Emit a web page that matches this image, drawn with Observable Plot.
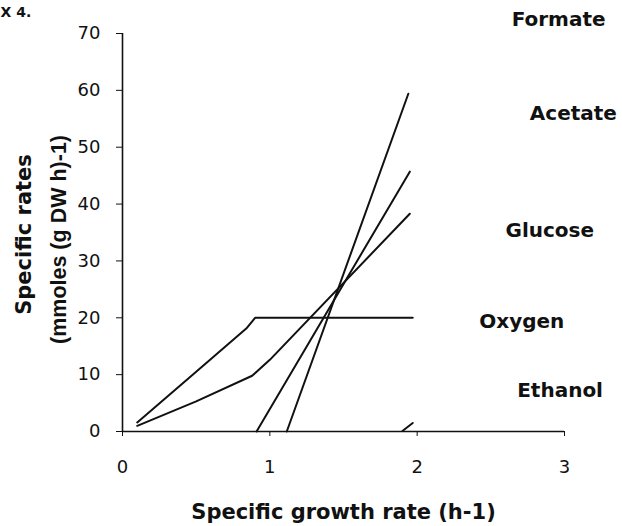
<!DOCTYPE html>
<html><head><meta charset="utf-8">
<script src="https://cdn.jsdelivr.net/npm/d3@7"></script>
<script src="https://cdn.jsdelivr.net/npm/@observablehq/plot@0.6"></script>
<style>
body{margin:0;background:#fff}
#chart svg{display:block}
</style>
</head><body><div id="chart"></div>
<script>
// Series (specific growth rate h-1 -> specific rate mmoles (g DW h)-1)
const formateX = [1.115, 1.94];
const formateY = [0, 59.4];
const acetateX = [0.91, 1.95];
const acetateY = [0, 45.7];
const glucoseX = [0.1, 0.5, 0.88, 1.0, 1.95];
const glucoseY = [1.0, 5.3, 9.8, 12.6, 38.3];
const oxygenX = [0.1, 0.5, 0.84, 0.9, 1.97];
const oxygenY = [1.6, 10.5, 18.1, 20, 20];
const ethanolX = [1.9, 1.97];
const ethanolY = [0.1, 1.5];

// Series labels on the right
const labelNames = ["Formate", "Acetate", "Glucose", "Oxygen", "Ethanol"];
const labelX = [2.96, 3.06, 2.9, 2.71, 2.97];
const labelY = [72.4, 56.0, 35.4, 19.4, 7.2];

const xTicks = [0, 1, 2, 3];
const yTicks = [0, 10, 20, 30, 40, 50, 60, 70];
const xTitle = "Specific growth rate (h-1)";
const yTitle1 = "Specific rates";
const yTitle2 = "(mmoles (g DW h)-1)";
const cornerText = "X 4.";

const toPts = (name, xs, ys) => xs.map((x, i) => ({series: name, x, y: ys[i]}));
const lines = [
  ...toPts("Formate", formateX, formateY),
  ...toPts("Acetate", acetateX, acetateY),
  ...toPts("Glucose", glucoseX, glucoseY),
  ...toPts("Oxygen", oxygenX, oxygenY),
  ...toPts("Ethanol", ethanolX, ethanolY)
];
const labels = labelNames.map((n, i) => ({n, x: labelX[i], y: labelY[i]}));
const bold = "DejaVu Sans, Verdana, sans-serif";
const narrow = "Liberation Sans, Arial, sans-serif";

const chart = Plot.plot({
  width: 622,
  height: 526,
  marginLeft: 122,
  marginRight: 58,
  marginTop: 33,
  marginBottom: 95,
  style: {fontFamily: "DejaVu Sans, sans-serif", background: "#fff", color: "#111", overflow: "visible"},
  x: {domain: [0, 3], ticks: xTicks, tickFormat: d3.format("d")},
  y: {domain: [0, 70], ticks: yTicks},
  marks: [
    Plot.axisX({ticks: xTicks, tickFormat: d3.format("d"), label: null, tickSize: 5, tickPadding: 24, fontSize: 18, stroke: "#111"}),
    Plot.axisY({ticks: yTicks, label: null, tickSize: 6, tickPadding: 16, fontSize: 18, stroke: "#111"}),
    Plot.ruleX([0], {stroke: "#111", strokeWidth: 1.6}),
    Plot.ruleY([0], {stroke: "#111", strokeWidth: 1.6}),
    Plot.line(lines, {x: "x", y: "y", z: "series", stroke: "#111", strokeWidth: 2, strokeLinejoin: "round"}),
    Plot.text(labels, {x: "x", y: "y", text: "n", fontSize: 20, fontWeight: "bold", fontFamily: bold, fill: "#111", clip: false}),
    Plot.text([xTitle], {frameAnchor: "bottom", lineAnchor: "middle", dx: 0, dy: 81, fontSize: 21, fontWeight: "bold", fontFamily: bold, fill: "#111"}),
    Plot.text([yTitle1], {frameAnchor: "left", textAnchor: "middle", lineAnchor: "middle", dx: -98, dy: 2, rotate: -90, fontSize: 21, fontWeight: "bold", fontFamily: bold, fill: "#111"}),
    Plot.text([yTitle2], {frameAnchor: "left", textAnchor: "middle", lineAnchor: "middle", dx: -63, dy: 7, rotate: -90, fontSize: 21.5, fontWeight: "bold", fontFamily: narrow, fill: "#111"}),
    Plot.text([cornerText], {frameAnchor: "top-left", dx: -122, dy: -26, textAnchor: "start", fontSize: 14, fontWeight: "bold", fontFamily: bold, fill: "#111"})
  ]
});
document.getElementById("chart").append(chart);
</script>
</body></html>
